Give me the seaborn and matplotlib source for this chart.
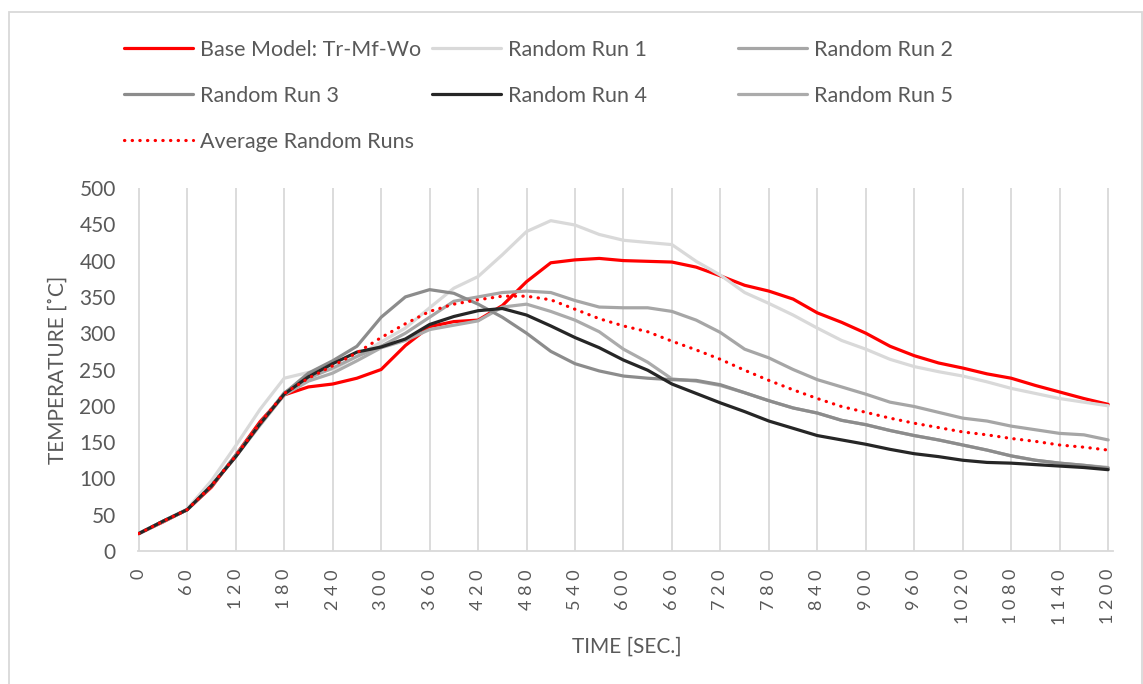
import matplotlib
matplotlib.use("Agg")
import pandas as pd
import matplotlib.pyplot as plt
import seaborn as sns
from matplotlib.patches import Rectangle

# data (temperature in degC every 30 s)
time_sec = list(range(0, 1201, 30))
base_model = [24, 40, 57, 88, 132, 178, 215, 226, 230, 238, 250, 283, 309, 316, 318, 338, 371, 397, 401, 403,
              400, 399, 398, 391, 379, 366, 358, 347, 328, 315, 300, 282, 269, 259, 252, 244, 238, 228, 219, 210, 202]
run_1 = [24, 41, 58, 97, 145, 195, 238, 246, 250, 268, 288, 307, 335, 362, 378, 408, 440, 455, 449, 436,
         428, 425, 422, 399, 380, 356, 341, 325, 307, 290, 278, 264, 254, 247, 241, 233, 224, 217, 210, 205, 200]
run_2 = [24, 41, 57, 90, 130, 175, 218, 238, 252, 268, 282, 300, 322, 344, 350, 356, 358, 356, 345, 336,
         335, 335, 330, 318, 301, 278, 266, 250, 236, 226, 216, 205, 199, 191, 183, 179, 172, 167, 162, 160, 153]
run_3 = [24, 41, 57, 90, 132, 175, 217, 245, 262, 282, 322, 350, 360, 355, 340, 322, 300, 275, 258, 248,
         241, 238, 236, 235, 229, 218, 207, 197, 190, 180, 174, 166, 159, 153, 146, 139, 131, 125, 121, 118, 114]
run_4 = [24, 41, 57, 90, 130, 175, 216, 240, 258, 274, 281, 292, 312, 323, 331, 334, 325, 310, 294, 280,
         263, 249, 230, 217, 204, 192, 179, 169, 159, 153, 147, 140, 134, 130, 125, 122, 121, 119, 117, 115, 112]
run_5 = [24, 41, 57, 90, 130, 173, 215, 234, 245, 262, 280, 290, 305, 311, 317, 336, 340, 330, 318, 302,
         278, 260, 237, 234, 228, 218, 207, 197, 190, 180, 174, 166, 159, 153, 146, 139, 131, 125, 121, 118, 115]
avg_runs = [24, 41, 57, 90, 131, 176, 217, 238, 255, 273, 294, 313, 330, 340, 346, 351, 351, 346, 333, 320,
            310, 302, 289, 277, 264, 249, 235, 222, 210, 199, 191, 183, 176, 170, 164, 160, 155, 151, 146, 143, 139]

x_ticks = list(range(0, 1201, 60))
y_ticks = list(range(0, 501, 50))

df = pd.DataFrame({
    "time": time_sec,
    "Base Model: Tr-Mf-Wo": base_model,
    "Random Run 1": run_1,
    "Random Run 2": run_2,
    "Random Run 3": run_3,
    "Random Run 4": run_4,
    "Random Run 5": run_5,
    "Average Random Runs": avg_runs,
})

sns.set_theme(style="white")
plt.rcParams['font.family'] = ['Lato', 'DejaVu Sans']
txt = "#595959"

fig = plt.figure(figsize=(11.43, 6.84), dpi=100)
ax = fig.add_axes([138 / 1143, 1 - 551 / 684, (1113 - 138) / 1143, (551 - 188) / 684])

dotted = (0, (0.1, 2.3))
styles = {
    "Base Model: Tr-Mf-Wo": ("#ff0000", "-", 2),
    "Random Run 1": ("#d9d9d9", "-", 3),
    "Random Run 2": ("#a6a6a6", "-", 4),
    "Random Run 3": ("#8c8c8c", "-", 5),
    "Random Run 4": ("#262626", "-", 6),
    "Random Run 5": ("#ababab", "-", 4.5),
    "Average Random Runs": ("#ff0000", dotted, 8),
}

handles = {}
for name, (col, ls, z) in styles.items():
    sns.lineplot(data=df, x="time", y=name, ax=ax, color=col, linewidth=2.3,
                 linestyle=ls, zorder=z, dash_capstyle="round", solid_capstyle="round",
                 solid_joinstyle="round")
    handles[name] = ax.lines[-1]

ax.set_xlim(-1, 1206)
ax.set_ylim(0, 500)
ax.set_xticks(x_ticks)
ax.set_xticklabels([" ".join(str(t)) for t in x_ticks], rotation=90, fontsize=13, color=txt)
ax.set_yticks(y_ticks)
ax.set_yticklabels([str(v) for v in y_ticks], fontsize=15, color=txt)
ax.tick_params(axis="x", length=0, pad=13)
ax.tick_params(axis="y", length=0, pad=16)
ax.set_xlabel("")
ax.set_ylabel("")
ax.xaxis.grid(True, color="#d9d9d9", linewidth=1.3)
ax.yaxis.grid(False)
for s in ["left", "top", "right"]:
    ax.spines[s].set_visible(False)
ax.spines["bottom"].set_color("#d9d9d9")
ax.spines["bottom"].set_linewidth(1.3)

fig.text(58 / 1143, 1 - 370 / 684, "TEMPERATURE [˚C]", rotation=90, ha="center", va="center",
         fontsize=15, color=txt)
fig.text(627 / 1143, 1 - 647 / 684, "TIME [SEC.]", ha="center", va="center", fontsize=15, color=txt)

# legend laid out in three columns like the original
columns = [
    (124, ["Base Model: Tr-Mf-Wo", "Random Run 3", "Average Random Runs"]),
    (432, ["Random Run 1", "Random Run 4"]),
    (738, ["Random Run 2", "Random Run 5"]),
]
for xpos, names in columns:
    leg = fig.legend([handles[n] for n in names], names, loc="upper left",
                     bbox_to_anchor=(xpos / 1143, 1 - 40 / 684), frameon=False, fontsize=15.5,
                     handlelength=3.2, handletextpad=0.33, labelspacing=1.2,
                     borderpad=0, borderaxespad=0, labelcolor=txt)

fig.add_artist(Rectangle((8.5 / 1143, -0.05), (1141.5 - 8.5) / 1143, 1.05 - 12 / 684,
                         transform=fig.transFigure, fill=False, edgecolor="#d9d9d9", linewidth=1.3))

fig.savefig("out.png", dpi=100)
